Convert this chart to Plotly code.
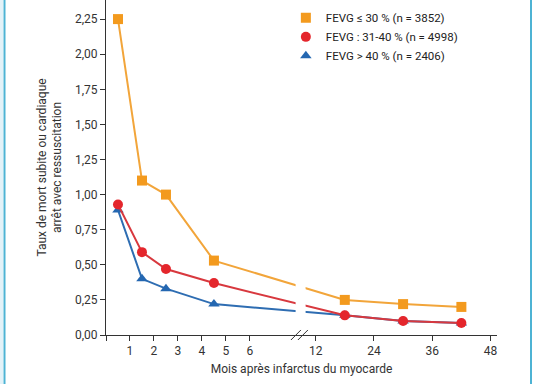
import plotly.graph_objects as go

# ---- data ----
months = [0.5, 1.5, 2.5, 4.5, 18, 30, 42]
fevg_le30 = [2.25, 1.10, 1.00, 0.53, 0.25, 0.22, 0.20]
fevg_31_40 = [0.93, 0.59, 0.47, 0.37, 0.14, 0.10, 0.085]
fevg_gt40 = [0.89, 0.40, 0.33, 0.22, 0.14, 0.10, 0.085]

x_tick_months = [0, 1, 2, 3, 4, 5, 6, 12, 24, 36, 48]
x_tick_text = ["", "1", "2", "3", "4", "5", "6", "12", "24", "36", "48"]
y_tick_vals = [0, 0.25, 0.5, 0.75, 1.0, 1.25, 1.5, 1.75, 2.0, 2.25]
y_tick_text = ["0,00", "0,25", "0,50", "0,75", "1,00", "1,25", "1,50", "1,75", "2,00", "2,25"]

names = ["FEVG ≤ 30 % (n = 3852)", "FEVG : 31-40 % (n = 4998)", "FEVG > 40 % (n = 2406)"]
colors = ["#F39A1E", "#E4262C", "#2467B1"]
line_colors = ["#F2A53A", "#D8383E", "#2E6DB2"]
symbols = ["square", "circle", "triangle-up"]


# broken axis scale: months 0-8 linear, then compressed from 12 onward
def pos(m):
    return m if m <= 8 else 8.74 + (m - 12) * 0.2025


xs = [pos(m) for m in months]
series = [fevg_le30, fevg_31_40, fevg_gt40]

fig = go.Figure()
# draw order: blue, red, orange
for i in [2, 1, 0]:
    fig.add_trace(go.Scatter(
        x=xs, y=series[i], mode="lines+markers", showlegend=False,
        line=dict(color=line_colors[i], width=2),
        marker=dict(symbol=symbols[i], size=10, color=colors[i]),
        name=names[i],
    ))
# legend entries (markers only)
for i in range(3):
    fig.add_trace(go.Scatter(
        x=[None], y=[None], mode="markers", name=names[i],
        marker=dict(symbol=symbols[i], size=10, color=colors[i]),
    ))

gap0, gap1 = (295 - 105.3) / 24, (305 - 105.3) / 24
shapes = [
    # gap in the lines at the axis break
    dict(type="rect", xref="x", yref="y", x0=gap0, x1=gap1, y0=0.01, y1=2.38,
         fillcolor="white", line=dict(width=0), layer="above"),
    # break marks
    dict(type="line", xref="x", yref="paper", x0=(291 - 106) / 24, x1=(301 - 106) / 24,
         y0=-5 / 334.7, y1=5 / 334.7, line=dict(color="#333", width=1), layer="above"),
    dict(type="line", xref="x", yref="paper", x0=(298 - 106) / 24, x1=(308 - 106) / 24,
         y0=-5 / 334.7, y1=5 / 334.7, line=dict(color="#333", width=1), layer="above"),
    # page frame lines
    dict(type="rect", xref="paper", yref="paper", x0=-106 / 391, x1=-103 / 391,
         y0=-49.3 / 334.7, y1=1, fillcolor="#E3F2F8", line=dict(width=0), layer="below"),
    dict(type="line", xref="paper", yref="paper", x0=-101.5 / 391, x1=-101.5 / 391,
         y0=-49.3 / 334.7, y1=1, line=dict(color="#4DB3D4", width=2)),
    dict(type="line", xref="paper", yref="paper", x0=425 / 391, x1=425 / 391,
         y0=-49.3 / 334.7, y1=1, line=dict(color="#4DB3D4", width=2)),
]

fig.update_layout(
    width=538, height=384,
    margin=dict(l=106, r=41, t=0, b=49),
    paper_bgcolor="white", plot_bgcolor="white",
    font=dict(family="Roboto, Arial, sans-serif", size=12, color="#333333"),
    shapes=shapes,
    legend=dict(x=0.46, y=0.99, xanchor="left", yanchor="top",
                bgcolor="rgba(0,0,0,0)", font=dict(size=11.5, color="#222222"),
                itemwidth=30, tracegroupgap=0),
    xaxis=dict(
        range=[0, 16.3], tickvals=[pos(m) for m in x_tick_months], ticktext=x_tick_text,
        showline=True, linecolor="#333333", linewidth=1, ticks="outside", ticklen=5,
        tickcolor="#333333", showgrid=False, zeroline=False,
        title=dict(text="Mois après infarctus du myocarde", font=dict(size=12), standoff=7),
    ),
    yaxis=dict(
        range=[0, 2.386], tickvals=y_tick_vals, ticktext=y_tick_text,
        showline=True, linecolor="#333333", linewidth=1, ticks="outside", ticklen=5,
        tickcolor="#333333", showgrid=False, zeroline=False,
        title=dict(text="Taux de mort subite ou cardiaque<br>arrêt avec ressuscitation",
                   font=dict(size=12), standoff=10),
    ),
)

fig.write_html("out.html", config={"displayModeBar": False},
               post_script="document.body.style.margin='0';document.body.style.overflow='hidden';")
